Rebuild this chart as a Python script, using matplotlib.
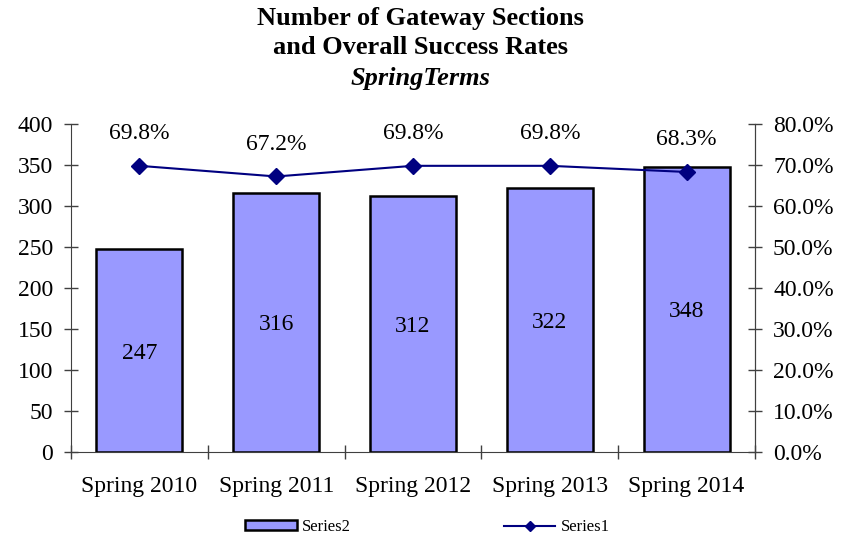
import matplotlib
matplotlib.use("Agg")
import matplotlib.pyplot as plt
from matplotlib.ticker import FuncFormatter

plt.rcParams['font.family'] = ['Liberation Serif', 'DejaVu Serif']

terms = ['Spring 2010', 'Spring 2011', 'Spring 2012', 'Spring 2013', 'Spring 2014']
sections = [247, 316, 312, 322, 348]
success = [69.8, 67.2, 69.8, 69.8, 68.3]

fig = plt.figure(figsize=(8.41, 5.4), dpi=100)
ax = fig.add_axes([71 / 841, 1 - 452 / 540, 684 / 841, 328 / 540])
x = list(range(len(terms)))

ax.bar(x, sections, width=0.63, color='#9999FF', edgecolor='black', linewidth=1.8,
       label='Series2', zorder=2)
for xi, v in zip(x, sections):
    ax.text(xi, v / 2 - 3, str(v), ha='center', va='center', fontsize=17)

ax.set_xlim(-0.5, len(terms) - 0.5)
ax.set_ylim(0, 400)
ax.set_yticks(range(0, 401, 50))
ax.set_xticks([i - 0.5 for i in range(len(terms) + 1)])
ax.set_xticklabels([])
ax.set_xticks(x, minor=True)
ax.set_xticklabels(terms, minor=True, fontsize=17)
ax.tick_params(axis='x', which='minor', length=0, pad=17)
ax.tick_params(axis='x', which='major', direction='inout', length=10, width=1, color='#404040')
ax.tick_params(axis='y', direction='inout', length=10, width=1, color='#404040', labelsize=17, pad=8)
ax.spines['top'].set_visible(False)
for s in ['left', 'bottom', 'right']:
    ax.spines[s].set_color('#404040')

ax2 = ax.twinx()
ax2.plot(x, success, color='#000080', marker='D', markersize=8, linewidth=1.5,
         label='Series1', zorder=3)
for xi, v in zip(x, success):
    ax2.text(xi, v + 7.8, f'{v:.1f}%', ha='center', va='center', fontsize=17)
ax2.set_ylim(0, 80)
ax2.set_yticks(range(0, 81, 10))
ax2.yaxis.set_major_formatter(FuncFormatter(lambda v, p: f'{v:.1f}%'))
ax2.tick_params(axis='y', direction='inout', length=10, width=1, color='#404040', labelsize=17, pad=8)
ax2.spines['top'].set_visible(False)
ax2.spines['right'].set_color('#404040')
ax2.spines['left'].set_visible(False)
ax2.spines['bottom'].set_visible(False)

fig.text(0.5, 1 - 18 / 540, 'Number of Gateway Sections', ha='center', va='center',
         fontsize=19, fontweight='bold')
fig.text(0.5, 1 - 48 / 540, 'and Overall Success Rates', ha='center', va='center',
         fontsize=19, fontweight='bold')
fig.text(0.5, 1 - 79 / 540, 'SpringTerms', ha='center', va='center', fontsize=19,
         fontweight='bold', style='italic')

h1, l1 = ax.get_legend_handles_labels()
h2, l2 = ax2.get_legend_handles_labels()
leg = fig.legend(h1 + h2, l1 + l2, loc='center', bbox_to_anchor=(0.508, 1 - 527 / 540), ncol=2,
                 frameon=False, fontsize=12, columnspacing=9.2, handlelength=3.1,
                 handleheight=0.5, handletextpad=0.3)
for lh in leg.legend_handles:
    if hasattr(lh, 'set_markersize'):
        lh.set_markersize(5)

fig.savefig('out.png', dpi=100)
